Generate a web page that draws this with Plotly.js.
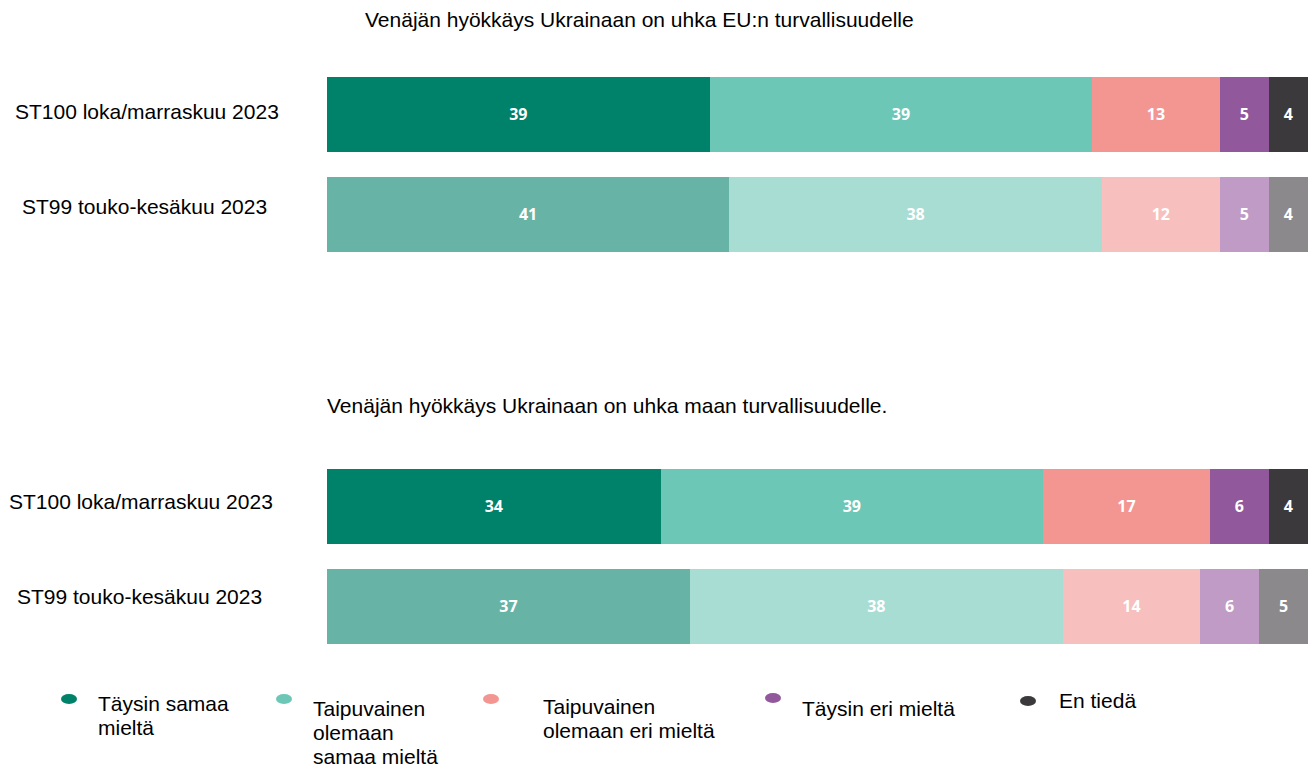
<!DOCTYPE html>
<html>
<head>
<meta charset="utf-8">
<script src="https://cdn.plot.ly/plotly-3.0.1.min.js"></script>
<style>html,body{margin:0;padding:0;background:#fff;}#chart{width:1314px;height:767px;}</style>
</head>
<body>
<div id="chart"></div>
<script>
// ---- data ----
const categories = ['ST100 loka/marraskuu 2023', 'ST99 touko-kesäkuu 2023'];
const responses = ['Täysin samaa<br>mieltä', 'Taipuvainen<br>olemaan<br>samaa mieltä', 'Taipuvainen<br>olemaan eri mieltä', 'Täysin eri mieltä', 'En tiedä'];
const questionTitles = ['Venäjän hyökkäys Ukrainaan on uhka EU:n turvallisuudelle', 'Venäjän hyökkäys Ukrainaan on uhka maan turvallisuudelle.'];
const euST100 = [39, 39, 13, 5, 4];
const euST99 = [41, 38, 12, 5, 4];
const maaST100 = [34, 39, 17, 6, 4];
const maaST99 = [37, 38, 14, 6, 5];

// ---- styles ----
const colorsNew = ['#00816A', '#6DC7B7', '#F39691', '#91589C', '#3B393C'];
const colorsOld = ['#67B4A6', '#A8DDD4', '#F7C0BE', '#BF9BC6', '#8B898C'];
const FONT = 'Liberation Sans, Arial, sans-serif';
const FS = 21;

const W = 1314, H = 767;
const M = {l: 327, r: 6, t: 64, b: 111};
const PW = W - M.l - M.r, PH = H - M.t - M.b;
const px = v => (v - M.l) / PW;
const py = v => (H - M.b - v) / PH;

const traces = [];
const sets = [[euST100, euST99, 'x', 'y'], [maaST100, maaST99, 'x2', 'y2']];
sets.forEach(([a, b, xa, ya]) => {
  responses.forEach((r, k) => {
    traces.push({
      type: 'bar', orientation: 'h',
      y: categories, x: [a[k], b[k]],
      xaxis: xa, yaxis: ya,
      name: r.replace(/<br>/g, ' '),
      marker: {color: [colorsNew[k], colorsOld[k]], line: {width: 0}},
      text: [a[k], b[k]].map(String),
      texttemplate: '%{text}',
      textposition: 'inside', insidetextanchor: 'middle', textangle: 0,
      constraintext: 'none',
      textfont: {family: 'Open Sans, sans-serif', size: 16, color: '#ffffff', weight: 'bold'},
      hoverinfo: 'x+y+name', showlegend: false
    });
  });
});

const annotations = [];
// titles
const titlePos = [[639, 20], [607, 405]];
questionTitles.forEach((t, i) => {
  annotations.push({text: t, xref: 'paper', yref: 'paper', x: px(titlePos[i][0]), y: py(titlePos[i][1]),
    xanchor: 'center', yanchor: 'middle', showarrow: false, font: {family: FONT, size: FS, color: '#000'}});
});
// category labels
const catPos = [[[147, 112], [144, 206]], [[141, 501], [139, 596]]];
catPos.forEach((grp, g) => {
  grp.forEach((p, i) => {
    annotations.push({text: categories[i], xref: 'paper', yref: 'paper', x: px(p[0]), y: py(p[1]),
      xanchor: 'center', yanchor: 'middle', showarrow: false, font: {family: FONT, size: FS, color: '#000'}});
  });
});
// legend
const legMarker = [[69, 699], [284, 699], [491, 699], [773, 698], [1028, 701]];
const legText = [[96, 703], [311, 708], [541, 706], [800, 708], [1057, 700]];
const shapes = [];
responses.forEach((r, k) => {
  const [mx, my] = legMarker[k];
  shapes.push({type: 'circle', xref: 'paper', yref: 'paper', x0: px(mx - 8), x1: px(mx + 8), y0: py(my + 5), y1: py(my - 5),
    fillcolor: colorsNew[k], line: {width: 0}});
  r.split('<br>').forEach((line, j) => {
    annotations.push({text: line, xref: 'paper', yref: 'paper', x: px(legText[k][0]), y: py(legText[k][1] + j * 24),
      xanchor: 'left', yanchor: 'middle', showarrow: false, font: {family: FONT, size: FS, color: '#000'}});
  });
});

const ax = {range: [0, 100], showgrid: false, zeroline: false, showticklabels: false, ticks: '', showline: false, fixedrange: true};
const ay = {type: 'category', autorange: 'reversed', showgrid: false, zeroline: false, showticklabels: false, ticks: '', showline: false};

const layout = {
  width: W, height: H,
  margin: M,
  paper_bgcolor: '#fff', plot_bgcolor: '#fff',
  barmode: 'stack', bargap: 0.25,
  showlegend: false,
  xaxis: Object.assign({}, ax, {anchor: 'y', domain: [0, 1]}),
  yaxis: Object.assign({}, ay, {anchor: 'x', domain: [1 - 200 / PH, 1]}),
  xaxis2: Object.assign({}, ax, {anchor: 'y2', domain: [0, 1]}),
  yaxis2: Object.assign({}, ay, {anchor: 'x2', domain: [0, 200 / PH]}),
  annotations: annotations,
  shapes: shapes,
  font: {family: FONT}
};

Plotly.newPlot('chart', traces, layout, {displayModeBar: false, staticPlot: true});
</script>
</body>
</html>
